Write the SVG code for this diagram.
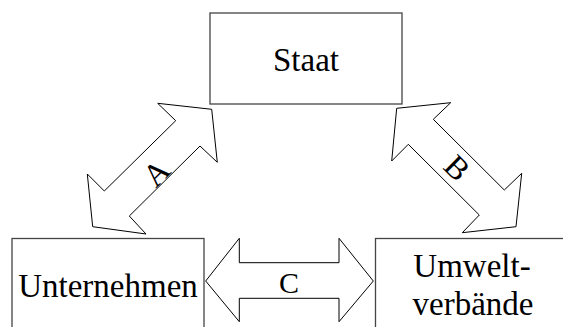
<svg xmlns="http://www.w3.org/2000/svg" width="563" height="327" viewBox="0 0 563 327">
<style>
.box{fill:#fff;stroke:#444;stroke-width:1.3}
.arr{fill:#fff;stroke:#000;stroke-width:1}
.t{font-family:"Liberation Serif","Times New Roman",serif;fill:#000;text-anchor:middle}
</style>
<rect width="563" height="327" fill="#fff"/>
<g id="connectors">
<g id="arrow-A">
<polygon class="arr" points="157.7,103.3 211.7,109.3 217.3,162.3 200,146 129.3,216 146,234 92.7,226.7 87.3,174 104.3,191 175.7,120.7"/>
<text class="t" font-size="32" transform="translate(164,180.5) rotate(-45)">A</text>
</g>
<g id="arrow-B">
<polygon class="arr" points="396.7,108.3 450.7,102.7 433.3,119.3 504.3,190 521.7,173.3 516,226.7 462.3,232.7 479.3,215 408.3,144.3 391.7,161"/>
<text class="t" font-size="32" transform="translate(449.5,175.5) rotate(45)">B</text>
</g>
<g id="arrow-C">
<polygon class="arr" points="205.7,281 239.3,238.3 239.3,262.7 339,262.7 339,238.3 373.3,281 339,321.7 339,298.3 239.3,298.3 239.3,321.7"/>
<text class="t" font-size="30" x="289" y="293">C</text>
</g>
</g>
<g id="staat">
<rect class="box" x="210" y="13" width="192" height="91"/>
<text class="t" font-size="33" x="306" y="71">Staat</text>
</g>
<g id="unternehmen">
<rect class="box" x="12" y="238.5" width="192" height="100"/>
<text class="t" font-size="33" x="108" y="297">Unternehmen</text>
</g>
<g id="umweltverbaende">
<rect class="box" x="375.5" y="238.5" width="200" height="100"/>
<text class="t" font-size="33" x="472" y="277">Umwelt-</text>
<text class="t" font-size="33" x="473" y="315">verbände</text>
</g>
</svg>
